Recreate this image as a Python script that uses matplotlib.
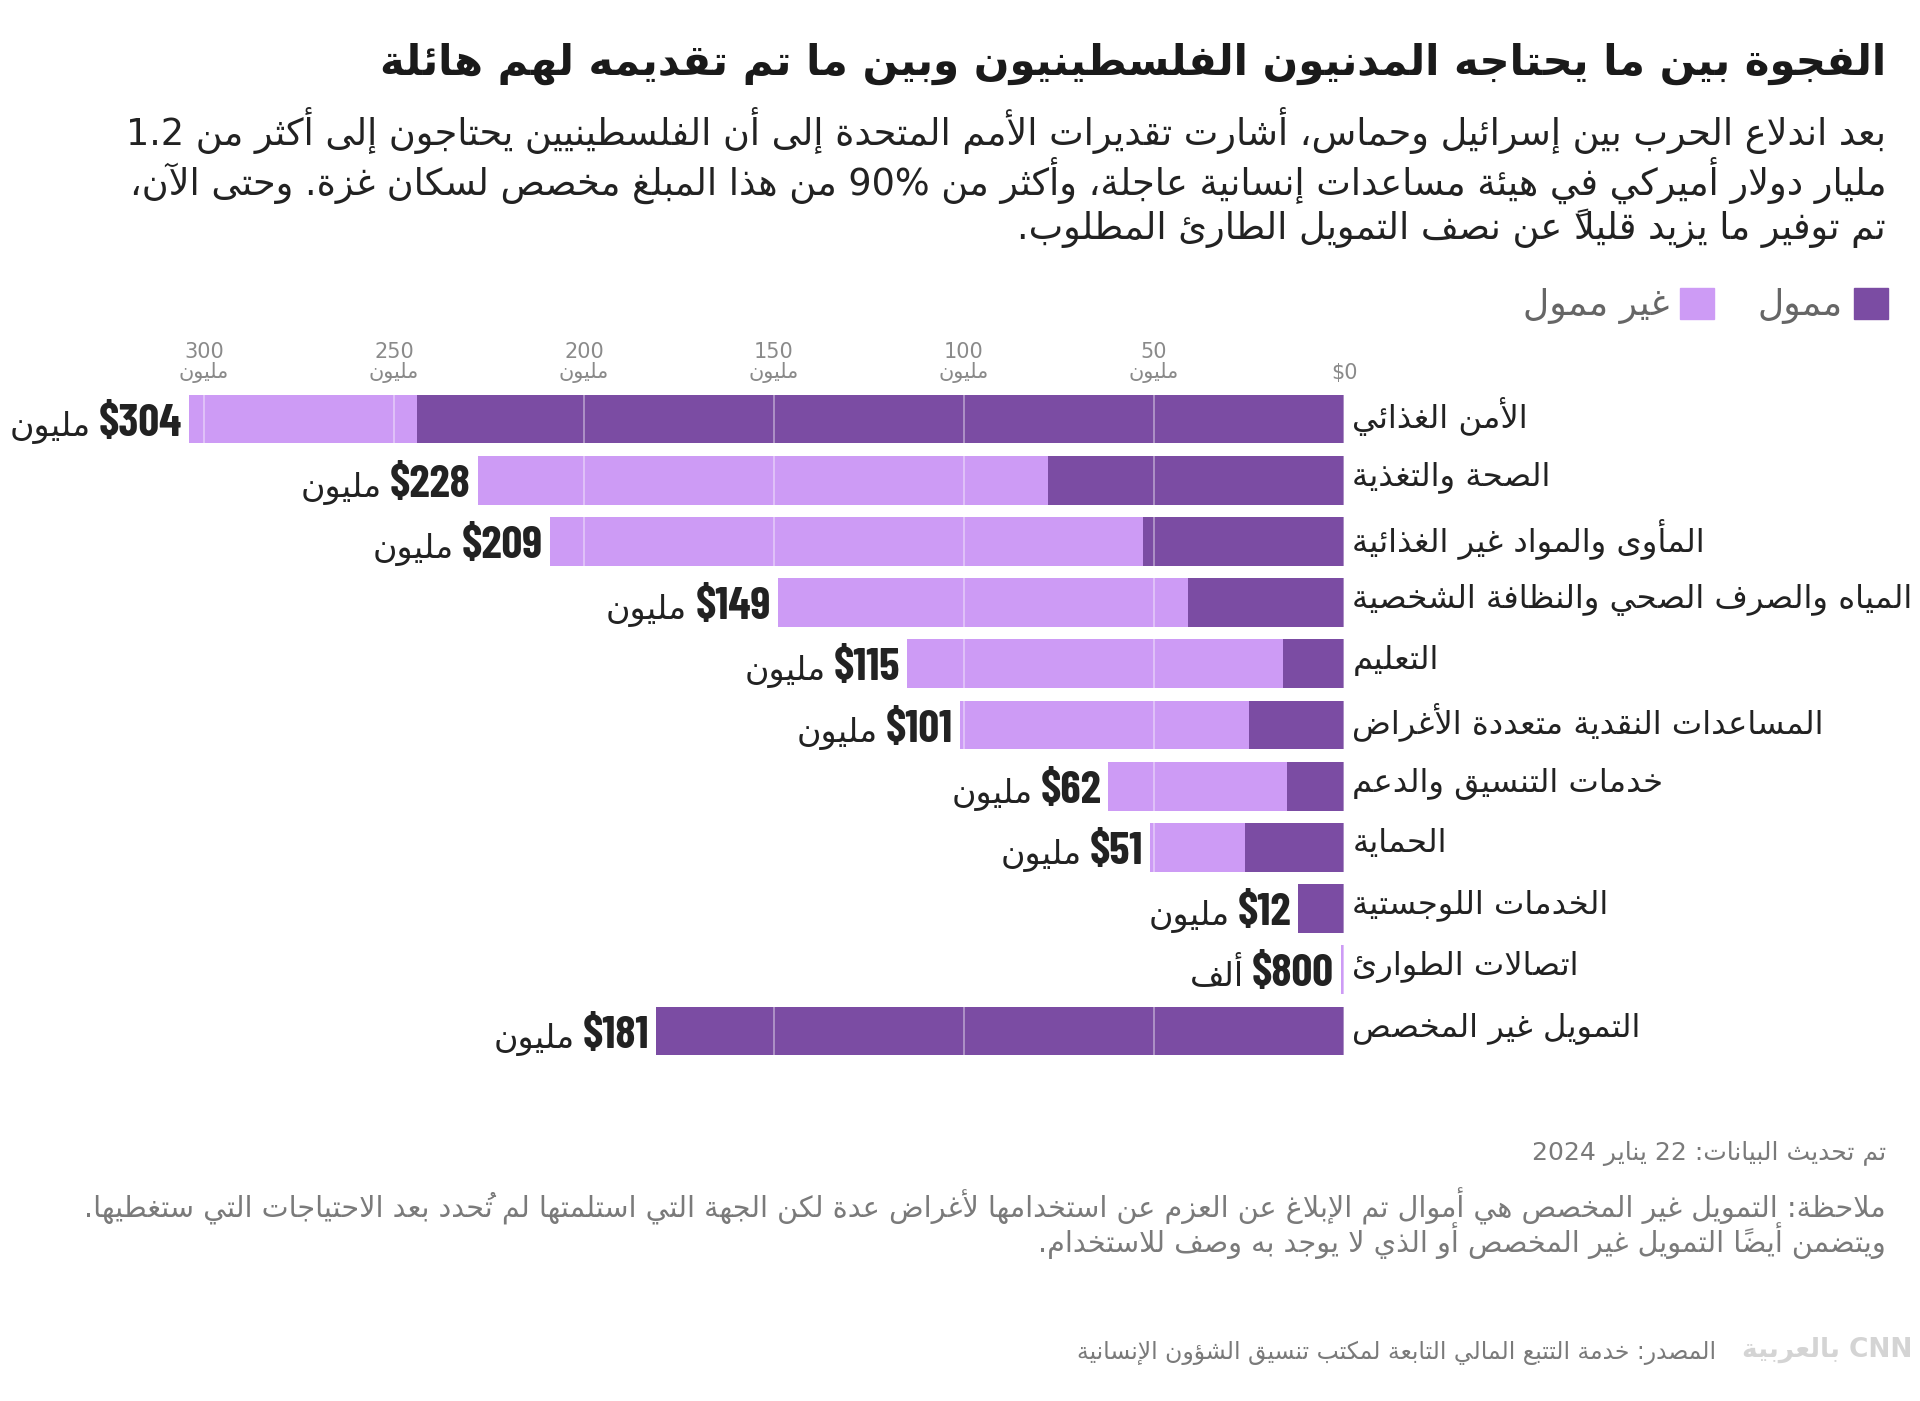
import re
import matplotlib
matplotlib.use("Agg")
import matplotlib.pyplot as plt
from matplotlib.patches import Patch
from matplotlib.transforms import ScaledTranslation

# ---------------- data ----------------
categories = [
    "الأمن الغذائي",
    "الصحة والتغذية",
    "المأوى والمواد غير الغذائية",
    "المياه والصرف الصحي والنظافة الشخصية",
    "التعليم",
    "المساعدات النقدية متعددة الأغراض",
    "خدمات التنسيق والدعم",
    "الحماية",
    "الخدمات اللوجستية",
    "اتصالات الطوارئ",
    "التمويل غير المخصص",
]
funded = [244, 78, 53, 41, 16, 25, 15, 26, 12, 0, 181]          # مليون دولار
unfunded = [60, 150, 156, 108, 99, 76, 47, 25, 0, 0.8, 0]
xticks = [0, 50, 100, 150, 200, 250, 300]

title = "الفجوة بين ما يحتاجه المدنيون الفلسطينيون وبين ما تم تقديمه لهم هائلة"
subtitle = [
    "بعد اندلاع الحرب بين إسرائيل وحماس، أشارت تقديرات الأمم المتحدة إلى أن الفلسطينيين يحتاجون إلى أكثر من 1.2",
    "مليار دولار أميركي في هيئة مساعدات إنسانية عاجلة، وأكثر من 90% من هذا المبلغ مخصص لسكان غزة. وحتى الآن،",
    "تم توفير ما يزيد قليلًا عن نصف التمويل الطارئ المطلوب.",
]
updated = "تم تحديث البيانات: 22 يناير 2024"
note = [
    "ملاحظة: التمويل غير المخصص هي أموال تم الإبلاغ عن العزم عن استخدامها لأغراض عدة لكن الجهة التي استلمتها لم تُحدد بعد الاحتياجات التي ستغطيها.",
    "ويتضمن أيضًا التمويل غير المخصص أو الذي لا يوجد به وصف للاستخدام.",
]
source = "المصدر: خدمة التتبع المالي التابعة لمكتب تنسيق الشؤون الإنسانية"

DARK = "#7b4ca3"
LIGHT = "#cd9bf5"

# ---------------- arabic shaping (no bidi lib available) ----------------
HARAKAT = set(chr(c) for c in range(0x064B, 0x0653))
FORMS = {
    'ء': (0xFE80, 1), 'آ': (0xFE81, 2), 'أ': (0xFE83, 2), 'ؤ': (0xFE85, 2), 'إ': (0xFE87, 2),
    'ئ': (0xFE89, 4), 'ا': (0xFE8D, 2), 'ب': (0xFE8F, 4), 'ة': (0xFE93, 2), 'ت': (0xFE95, 4),
    'ث': (0xFE99, 4), 'ج': (0xFE9D, 4), 'ح': (0xFEA1, 4), 'خ': (0xFEA5, 4), 'د': (0xFEA9, 2),
    'ذ': (0xFEAB, 2), 'ر': (0xFEAD, 2), 'ز': (0xFEAF, 2), 'س': (0xFEB1, 4), 'ش': (0xFEB5, 4),
    'ص': (0xFEB9, 4), 'ض': (0xFEBD, 4), 'ط': (0xFEC1, 4), 'ظ': (0xFEC5, 4), 'ع': (0xFEC9, 4),
    'غ': (0xFECD, 4), 'ف': (0xFED1, 4), 'ق': (0xFED5, 4), 'ك': (0xFED9, 4), 'ل': (0xFEDD, 4),
    'م': (0xFEE1, 4), 'ن': (0xFEE5, 4), 'ه': (0xFEE9, 4), 'و': (0xFEED, 2), 'ى': (0xFEEF, 2),
    'ي': (0xFEF1, 4),
}
LAMALEF = {'آ': 0xFEF5, 'أ': 0xFEF7, 'إ': 0xFEF9, 'ا': 0xFEFB}
LTR = re.compile(r'[0-9A-Za-z$][0-9A-Za-z$.,%]*[0-9A-Za-z%]|[0-9A-Za-z$]')


def shape(s):
    ch = list(s)
    n = len(ch)
    out = []
    i = 0
    while i < n:
        c = ch[i]
        if c not in FORMS:
            out.append(c)
            i += 1
            continue
        j = i - 1
        while j >= 0 and ch[j] in HARAKAT:
            j -= 1
        p = ch[j] if j >= 0 else None
        joins_prev = p in FORMS and FORMS[p][1] == 4 and FORMS[c][1] > 1
        k = i + 1
        while k < n and ch[k] in HARAKAT:
            k += 1
        nx = ch[k] if k < n else None
        if c == 'ل' and nx in LAMALEF:
            out.append(chr(LAMALEF[nx] + (1 if joins_prev else 0)))
            out.extend(ch[i + 1:k])
            i = k + 1
            continue
        joins_next = FORMS[c][1] == 4 and nx in FORMS and FORMS[nx][1] > 1
        if joins_prev and joins_next:
            f = 3
        elif joins_prev:
            f = 1
        elif joins_next:
            f = 2
        else:
            f = 0
        out.append(chr(FORMS[c][0] + f))
        i += 1
    return ''.join(out)


def ar(s):
    """shape + reverse to visual order, keep numbers left-to-right"""
    s = shape(s)
    tokens = []
    pos = 0
    for m in LTR.finditer(s):
        tokens.extend(s[pos:m.start()])
        tokens.append(m.group())
        pos = m.end()
    tokens.extend(s[pos:])
    return ''.join(reversed(tokens))


# ---------------- figure ----------------
plt.rcParams['font.family'] = ['DejaVu Sans']

W, H = 1920, 1401
fig = plt.figure(figsize=(W / 100, H / 100), dpi=100)
fig.patch.set_facecolor('white')

x0, x1 = 14, 1344          # axes left / right in px
ytop, ybot = 388.4, 1061.6
ax = fig.add_axes([x0 / W, 1 - ybot / H, (x1 - x0) / W, (ybot - ytop) / H])

ypos = list(range(len(categories)))
ax.barh(ypos, funded, height=0.8, color=DARK, zorder=1)
ax.barh(ypos, unfunded, left=funded, height=0.8, color=LIGHT, zorder=1)

ax.set_xlim(350, 0)
ax.set_ylim(len(categories) - 0.5, -0.5)
for s in ax.spines.values():
    s.set_visible(False)

ax.set_xticks(xticks)
ax.set_xticklabels(['$0'] + [f"{v}\n" + ar("مليون") for v in xticks[1:]],
                   color='#8a8a8a', fontsize=15, linespacing=1.0)
ax.xaxis.tick_top()
ax.tick_params(axis='x', length=0, pad=4)
ax.grid(axis='x', color='white', alpha=0.45, linewidth=1.2, zorder=2)
ax.grid(axis='y', visible=False)
ax.set_axisbelow(False)

ax.set_yticks(ypos)
ax.set_yticklabels([ar(c) for c in categories], fontsize=22, color='#222222')
ax.yaxis.tick_right()
ax.tick_params(axis='y', length=0, pad=6)
up = ScaledTranslation(0, 5 / 72, fig.dpi_scale_trans)
for lab in ax.get_yticklabels():
    lab.set_transform(lab.get_transform() + up)

# value labels
num_font = ['Barlow Condensed', 'Archivo Narrow', 'DejaVu Sans']
for i, (f, u) in enumerate(zip(funded, unfunded)):
    total = f + u
    if total < 1:
        val, unit = f"${total * 1000:.0f}", "ألف"
    else:
        val, unit = f"${total:.0f}", "مليون"
    t1 = ax.annotate(val, xy=(total, i + 0.27), xytext=(-5, 0), textcoords='offset points',
                     ha='right', va='baseline', fontsize=33, fontweight='bold',
                     family=num_font, color='#222222')
    ax.annotate(ar(unit), xy=(0, i + 0.27), xycoords=(t1, 'data'), xytext=(-6, 0),
                textcoords='offset points', ha='right', va='baseline', fontsize=24,
                color='#222222')

# legend
handles = [Patch(color=LIGHT), Patch(color=DARK)]
fig.legend(handles, [ar("غير ممول"), ar("ممول")], loc='center right',
           bbox_to_anchor=(1888 / W, 1 - 306 / H), ncol=2, markerfirst=False,
           frameon=False, handlelength=0.95, handleheight=0.95, handletextpad=0.3,
           columnspacing=1.2, fontsize=26, labelcolor='#666666',
           borderpad=0, borderaxespad=0)

# titles and notes
RX = 1886 / W
fits = []
t = fig.text(RX, 1 - 64 / H, ar(title), ha='right', va='center', fontsize=30,
             fontweight='bold', color='#1a1a1a')
fits.append(([t], 0, 1504))
sub = [fig.text(RX, 1 - y / H, ar(line), ha='right', va='center', fontsize=24, color='#222222')
       for y, line in zip([131, 180, 228], subtitle)]
fits.append((sub, 1, 1767))
t = fig.text(RX, 1 - 1153 / H, ar(updated), ha='right', va='center', fontsize=18, color='#7a7a7a')
fits.append(([t], 0, 355))
nts = [fig.text(RX, 1 - y / H, ar(line), ha='right', va='center', fontsize=18, color='#7a7a7a')
       for y, line in zip([1206, 1241], note)]
fits.append((nts, 0, 1798))
t = fig.text(1716 / W, 1 - 1353 / H, ar(source), ha='right', va='center', fontsize=16, color='#7a7a7a')
fits.append(([t], 0, 640))
fig.text(1912 / W, 1 - 1350 / H, ar("بالعربية") + " CNN", ha='right', va='center',
         fontsize=19, fontweight='bold', color='#d4d4d4')

# scale long texts to the widths they take in the original
fig.canvas.draw()
r = fig.canvas.get_renderer()
for group, k, w in fits:
    scale = w / group[k].get_window_extent(r).width
    for t in group:
        t.set_fontsize(t.get_fontsize() * scale)
labs = ax.get_yticklabels()
wl = max(l.get_window_extent(r).width for l in labs)
for l in labs:
    l.set_fontsize(l.get_fontsize() * 560 / wl)

fig.savefig('out.png', dpi=100, facecolor='white')
